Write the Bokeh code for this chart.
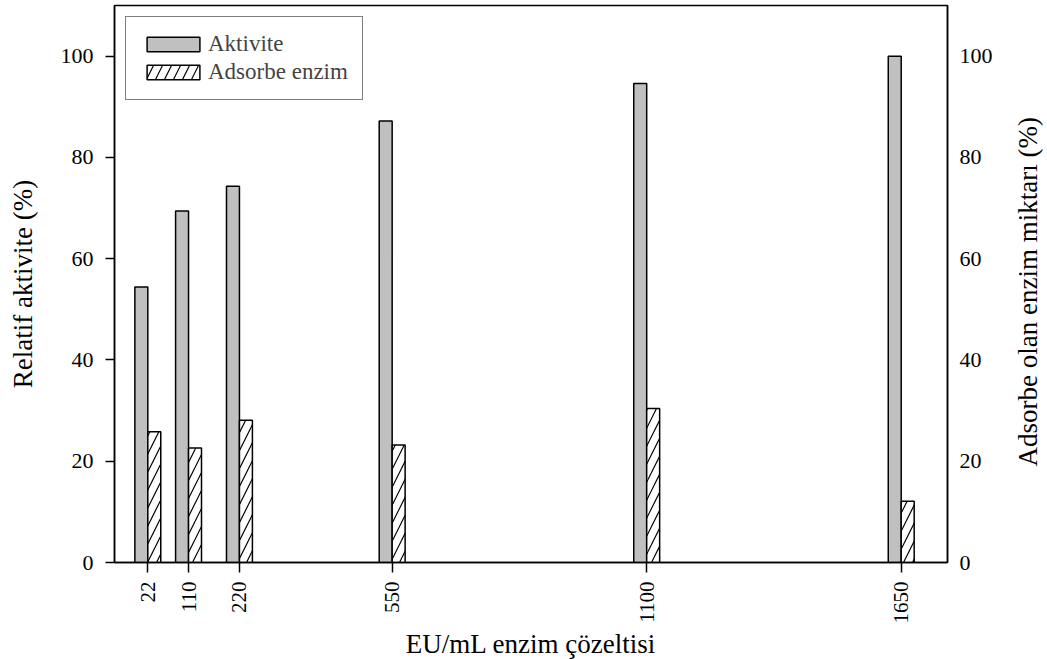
import math
from bokeh.plotting import figure
from bokeh.models import (Range1d, LinearAxis, FixedTicker, Legend, LegendItem,
                          ColumnDataSource)
from bokeh.transform import dodge
from bokeh.embed import file_html
from bokeh.resources import INLINE

# Enzyme solution concentrations (EU/mL)
concentration = [22, 110, 220, 550, 1100, 1650]
# Relative activity (%)
aktivite = [54.4, 69.4, 74.3, 87.2, 94.6, 100.0]
# Adsorbed enzyme amount (%)
adsorbe = [25.8, 22.6, 28.1, 23.2, 30.4, 12.1]
y_ticks = [0, 20, 40, 60, 80, 100]

FONT = "Times New Roman, Liberation Serif, serif"
BAR_W = 28
Y_MAX = 110
RIGHT_TITLE = "Adsorbe olan enzim miktarı (%)"
RIGHT_TITLE_POS = 65   # anchor of the rotated title on the right scale

src = ColumnDataSource(dict(x=concentration, akt=aktivite, ads=adsorbe))

p = figure(frame_width=833, frame_height=557, output_backend="svg",
           toolbar_location=None,
           x_range=Range1d(-50, 1750), y_range=Range1d(0, Y_MAX),
           min_border_left=114, min_border_right=100,
           min_border_top=5, min_border_bottom=97)
p.extra_y_ranges = {"ads": Range1d(0, Y_MAX)}

p.grid.visible = False
p.outline_line_color = "black"
p.outline_line_width = 1.5
p.background_fill_color = "white"
p.border_fill_color = "white"

r1 = p.vbar(x=dodge("x", -BAR_W / 2, range=p.x_range), top="akt", bottom=0,
            width=BAR_W, source=src, fill_color="#c0c0c0",
            line_color="black", line_width=1.5)
r2 = p.vbar(x=dodge("x", BAR_W / 2, range=p.x_range), top="ads", bottom=0,
            width=BAR_W, source=src, fill_color="white", line_color="black",
            line_width=1.5, hatch_pattern="/", hatch_color="black",
            hatch_scale=18, hatch_weight=1.2, y_range_name="ads")

# bottom axis
xa = p.xaxis[0]
xa.ticker = FixedTicker(ticks=concentration)
xa.minor_tick_line_color = None
xa.major_tick_in = 0
xa.major_tick_out = 10
xa.major_label_orientation = math.pi / 2
xa.major_label_standoff = 9
xa.axis_label = "EU/mL enzim çözeltisi"
xa.axis_label_standoff = 2

# left axis
ya = p.yaxis[0]
ya.ticker = FixedTicker(ticks=y_ticks)
ya.minor_tick_line_color = None
ya.major_tick_in = 0
ya.major_tick_out = 9
ya.major_label_standoff = 12
ya.axis_label = "Relatif aktivite (%)"
ya.axis_label_standoff = 20

# right axis for the adsorbed amount
ra = LinearAxis(y_range_name="ads", ticker=FixedTicker(ticks=y_ticks))
ra.minor_tick_line_color = None
ra.major_tick_in = 0
ra.major_tick_out = 0
ra.major_tick_line_color = None
ra.major_label_standoff = 12
p.add_layout(ra, "right")

for ax in (xa, ya, ra):
    ax.axis_line_color = "black"
    ax.axis_line_width = 1.5
    ax.major_label_text_font = FONT
    ax.major_label_text_font_size = "22px"
    ax.major_label_text_color = "black"
    ax.axis_label_text_font = FONT
    ax.axis_label_text_font_size = "27px"
    ax.axis_label_text_font_style = "normal"
    ax.axis_label_text_color = "black"
for ax in (xa, ya):
    ax.major_tick_line_color = "black"
    ax.major_tick_line_width = 1.5
xa.major_label_text_font_size = "21px"

# right-hand title: a bare axis with a single rotated label reading bottom to top
ta = LinearAxis(y_range_name="ads", ticker=FixedTicker(ticks=[RIGHT_TITLE_POS]),
                major_label_overrides={RIGHT_TITLE_POS: RIGHT_TITLE})
ta.axis_line_color = None
ta.major_tick_line_color = None
ta.minor_tick_line_color = None
ta.major_tick_in = 0
ta.major_tick_out = 0
ta.major_label_orientation = math.pi / 2
ta.major_label_standoff = 33
ta.major_label_text_line_height = 0.8
ta.major_label_text_font = FONT
ta.major_label_text_font_size = "27px"
ta.major_label_text_color = "black"
p.add_layout(ta, "right")

legend = Legend(items=[LegendItem(label="Aktivite", renderers=[r1]),
                       LegendItem(label="Adsorbe enzim", renderers=[r2])],
                location="top_left", margin=11, padding=14, spacing=2,
                glyph_width=66, glyph_height=18, label_standoff=2,
                label_text_font=FONT, label_text_font_size="23px",
                border_line_color="black", border_line_width=1.5,
                background_fill_alpha=1.0)
p.add_layout(legend)

open("out.html", "w").write(file_html(p, INLINE))
